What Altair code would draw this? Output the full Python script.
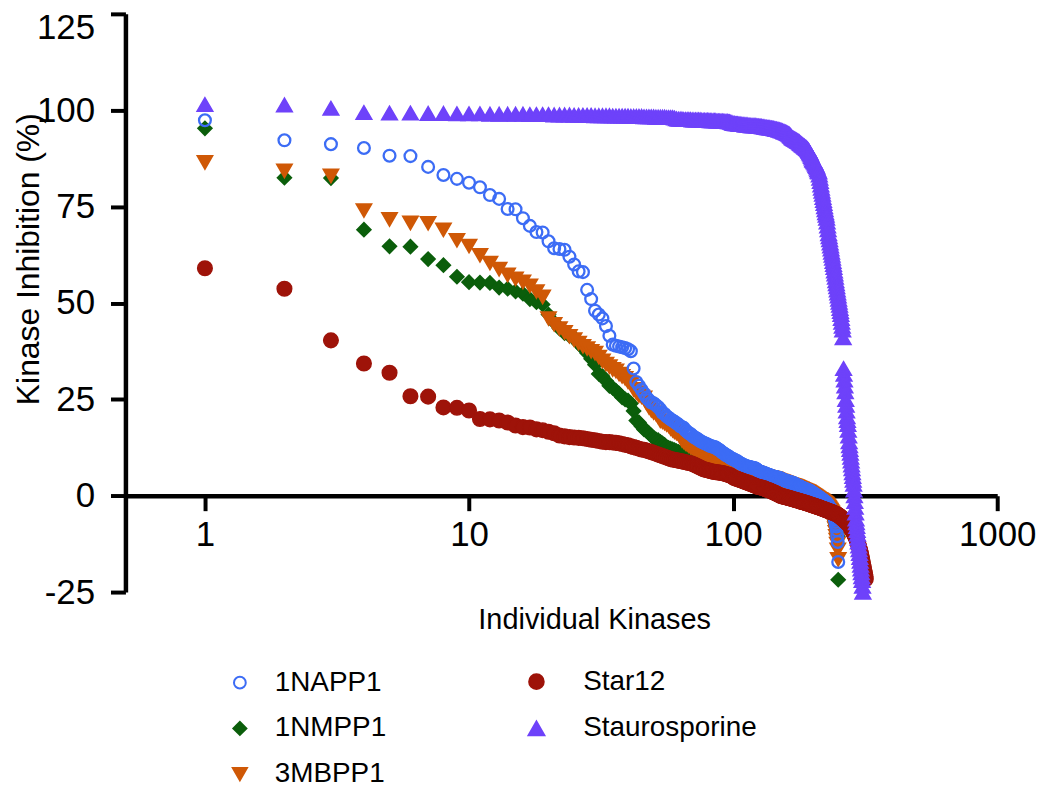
import altair as alt
import pandas as pd

# Ranked kinase inhibition (%) per compound, rank 1..N
napp1 = [
    97.4, 92.2, 91.2, 90.2, 88.2, 88.1, 85.3, 83.2, 82.2, 81.2,
    80.0, 78.0, 77.0, 74.4, 74.3, 72.0, 70.0, 68.4, 68.3, 66.0,
    64.2, 64.0, 63.8, 62.0, 60.0, 58.2, 58.0, 53.4, 51.0, 48.0,
    47.0, 46.0, 44.0, 41.5, 39.2, 38.9, 38.7, 38.5, 38.3, 38.0,
    37.5, 33.0, 29.5, 28.5, 27.5, 26.5, 25.5, 24.8, 24.2, 24.0,
    23.5, 23.0, 22.4, 21.5, 21.2, 20.6, 20.2, 19.8, 19.5, 19.2,
    18.8, 18.5, 18.0, 17.8, 17.6, 17.0, 16.6, 16.2, 16.0, 15.6,
    15.2, 15.0, 14.8, 14.5, 14.2, 14.0, 13.8, 13.6, 13.5, 13.3,
    13.1, 12.9, 12.8, 12.7, 12.6, 12.5, 12.2, 12.0, 11.8, 11.5,
    11.2, 11.0, 10.8, 10.5, 10.4, 10.2, 10.0, 9.8, 9.6, 9.5,
    9.3, 9.2, 9.0, 8.9, 8.7, 8.5, 8.3, 8.2, 8.0, 7.9,
    7.8, 7.7, 7.6, 7.5, 7.5, 7.4, 7.3, 7.3, 7.2, 7.2,
    7.1, 7.0, 6.8, 6.6, 6.4, 6.3, 6.2, 6.1, 6.0, 6.0,
    5.9, 5.8, 5.7, 5.6, 5.5, 5.4, 5.4, 5.3, 5.2, 5.1,
    5.0, 5.0, 4.9, 4.9, 4.8, 4.8, 4.7, 4.7, 4.6, 4.6,
    4.5, 4.4, 4.3, 4.2, 4.1, 4.0, 4.0, 3.9, 3.8, 3.8,
    3.7, 3.7, 3.6, 3.5, 3.5, 3.4, 3.4, 3.3, 3.3, 3.2,
    3.1, 3.0, 2.9, 2.8, 2.7, 2.6, 2.5, 2.5, 2.4, 2.3,
    2.2, 2.1, 2.0, 2.0, 1.9, 1.8, 1.8, 1.7, 1.6, 1.6,
    1.5, 1.5, 1.4, 1.4, 1.3, 1.2, 1.1, 1.0, 0.9, 0.8,
    0.7, 0.6, 0.5, 0.4, 0.3, 0.2, 0.1, 0.0, -0.1, -0.2,
    -0.3, -0.4, -0.5, -0.6, -0.7, -0.8, -0.9, -1.0, -1.1, -1.2,
    -1.3, -1.4, -1.5, -1.6, -1.7, -1.8, -2.0, -2.2, -2.4, -2.6,
    -2.8, -3.0, -3.2, -3.4, -3.6, -3.8, -4.0, -4.3, -4.6, -5.0,
    -5.4, -5.8, -6.2, -6.8, -7.5, -8.0, -9.0, -10.5, -12.0, -17.2,
]

nmpp1 = [
    95.3, 82.5, 82.4, 69.0, 64.7, 64.6, 61.4, 59.8, 56.8, 55.4,
    55.3, 55.2, 54.0, 53.7, 53.0, 52.4, 51.0, 50.2, 49.6, 47.0,
    45.0, 43.4, 42.2, 41.5, 41.0, 39.5, 38.3, 37.0, 35.5, 34.0,
    31.6, 31.0, 29.8, 28.5, 28.0, 27.2, 26.5, 25.5, 25.0, 24.7,
    23.9, 22.0, 19.5, 19.0, 18.0, 17.2, 16.8, 16.2, 15.6, 15.0,
    14.6, 14.4, 14.0, 13.6, 13.2, 12.6, 12.4, 12.2, 12.0, 11.8,
    11.6, 11.4, 11.2, 11.0, 10.9, 10.8, 10.7, 10.6, 10.5, 10.4,
    10.2, 10.1, 10.0, 9.9, 9.8, 9.7, 9.6, 9.5, 9.5, 9.4,
    9.3, 9.2, 9.1, 9.0, 8.9, 8.8, 8.7, 8.6, 8.5, 8.4,
    8.3, 8.2, 8.1, 8.0, 7.9, 7.8, 7.7, 7.6, 7.5, 7.5,
    7.4, 7.3, 7.2, 7.1, 7.0, 6.9, 6.8, 6.7, 6.6, 6.5,
    6.4, 6.4, 6.3, 6.3, 6.2, 6.2, 6.1, 6.1, 6.0, 6.0,
    5.9, 5.8, 5.7, 5.6, 5.5, 5.4, 5.3, 5.2, 5.1, 5.0,
    4.9, 4.8, 4.8, 4.7, 4.6, 4.5, 4.4, 4.4, 4.3, 4.2,
    4.2, 4.1, 4.1, 4.0, 4.0, 3.9, 3.9, 3.8, 3.8, 3.7,
    3.6, 3.6, 3.5, 3.5, 3.4, 3.3, 3.3, 3.2, 3.1, 3.0,
    3.0, 2.9, 2.9, 2.8, 2.8, 2.7, 2.7, 2.6, 2.6, 2.5,
    2.5, 2.4, 2.4, 2.3, 2.3, 2.2, 2.2, 2.1, 2.1, 2.0,
    2.0, 1.9, 1.9, 1.8, 1.7, 1.6, 1.6, 1.5, 1.4, 1.3,
    1.3, 1.2, 1.1, 1.0, 1.0, 0.9, 0.8, 0.7, 0.6, 0.5,
    0.4, 0.3, 0.2, 0.1, 0.0, -0.1, -0.2, -0.3, -0.4, -0.5,
    -0.6, -0.7, -0.8, -0.9, -1.0, -1.1, -1.2, -1.3, -1.4, -1.5,
    -1.6, -1.7, -1.8, -1.9, -2.0, -2.1, -2.2, -2.3, -2.5, -2.7,
    -2.9, -3.1, -3.3, -3.5, -3.7, -3.9, -4.2, -4.5, -4.8, -5.2,
    -5.6, -6.0, -6.5, -7.0, -7.5, -8.0, -8.8, -9.5, -10.5, -21.8,
]

mbpp1 = [
    86.5, 84.3, 83.0, 74.0, 71.7, 70.8, 70.7, 69.0, 66.3, 64.8,
    62.4, 60.4, 58.8, 57.3, 56.3, 55.5, 54.5, 53.0, 51.6, 46.0,
    44.5, 43.4, 42.4, 41.4, 40.5, 39.6, 38.8, 38.2, 37.5, 37.0,
    36.0, 35.0, 34.2, 33.5, 32.8, 32.4, 31.6, 31.0, 30.5, 29.6,
    29.0, 27.6, 26.8, 26.0, 25.7, 25.4, 24.0, 23.0, 22.2, 21.6,
    21.3, 20.5, 19.5, 19.2, 18.9, 18.5, 18.2, 17.5, 17.0, 16.6,
    16.3, 16.2, 15.4, 14.4, 14.0, 13.6, 13.3, 13.0, 12.7, 12.4,
    12.2, 12.0, 11.8, 11.6, 11.4, 11.2, 11.0, 10.8, 10.6, 10.4,
    10.2, 10.0, 9.9, 9.8, 9.7, 9.6, 9.5, 9.4, 9.3, 9.2,
    9.1, 9.0, 8.9, 8.8, 8.7, 8.6, 8.5, 8.4, 8.3, 8.2,
    8.0, 7.9, 7.8, 7.6, 7.5, 7.4, 7.2, 7.1, 7.0, 6.9,
    6.8, 6.7, 6.6, 6.5, 6.4, 6.4, 6.3, 6.2, 6.1, 6.0,
    6.0, 5.9, 5.8, 5.7, 5.6, 5.5, 5.4, 5.3, 5.2, 5.1,
    5.0, 5.0, 4.9, 4.9, 4.8, 4.8, 4.7, 4.7, 4.6, 4.6,
    4.5, 4.5, 4.4, 4.4, 4.3, 4.2, 4.1, 4.0, 3.9, 3.8,
    3.8, 3.7, 3.6, 3.6, 3.5, 3.4, 3.4, 3.3, 3.2, 3.2,
    3.1, 3.0, 3.0, 2.9, 2.8, 2.8, 2.7, 2.7, 2.6, 2.5,
    2.5, 2.4, 2.3, 2.3, 2.2, 2.1, 2.0, 2.0, 1.9, 1.8,
    1.8, 1.7, 1.6, 1.5, 1.5, 1.4, 1.3, 1.2, 1.2, 1.1,
    1.0, 1.0, 0.9, 0.8, 0.7, 0.6, 0.5, 0.4, 0.3, 0.2,
    0.1, 0.0, -0.1, -0.2, -0.3, -0.4, -0.5, -0.6, -0.7, -0.8,
    -0.9, -1.0, -1.0, -1.1, -1.2, -1.3, -1.4, -1.5, -1.6, -1.7,
    -1.8, -1.9, -2.0, -2.1, -2.2, -2.4, -2.6, -2.8, -3.0, -3.2,
    -3.4, -3.6, -3.8, -4.0, -4.2, -4.4, -4.7, -5.0, -5.4, -5.8,
    -6.3, -7.0, -7.8, -8.5, -9.5, -10.5, -11.5, -12.5, -14.0, -16.5,
]

star12 = [
    59.0, 53.7, 40.3, 34.3, 31.9, 25.8, 25.7, 22.9, 22.8, 22.1,
    19.9, 19.8, 19.5, 19.0, 18.2, 17.8, 17.7, 17.2, 17.0, 16.6,
    16.2, 15.6, 15.4, 15.2, 15.1, 15.0, 14.9, 14.7, 14.5, 14.4,
    14.2, 14.0, 13.9, 13.9, 13.8, 13.7, 13.6, 13.4, 13.2, 13.1,
    12.8, 12.6, 12.4, 12.2, 12.0, 11.9, 11.7, 11.5, 11.3, 11.1,
    10.9, 10.7, 10.5, 10.3, 10.1, 9.9, 9.7, 9.5, 9.4, 9.3,
    9.2, 9.1, 9.0, 8.9, 8.8, 8.7, 8.6, 8.5, 8.4, 8.3,
    8.1, 7.9, 7.7, 7.5, 7.3, 7.1, 6.9, 6.8, 6.7, 6.6,
    6.5, 6.4, 6.3, 6.2, 6.2, 6.1, 6.1, 6.0, 6.0, 5.9,
    5.9, 5.8, 5.7, 5.6, 5.5, 5.4, 5.3, 5.2, 5.0, 4.8,
    4.6, 4.5, 4.4, 4.3, 4.2, 4.1, 4.0, 3.9, 3.8, 3.7,
    3.6, 3.5, 3.4, 3.3, 3.2, 3.1, 3.0, 2.9, 2.8, 2.7,
    2.6, 2.5, 2.4, 2.3, 2.3, 2.2, 2.2, 2.1, 2.0, 2.0,
    1.9, 1.8, 1.7, 1.6, 1.5, 1.5, 1.4, 1.3, 1.2, 1.1,
    1.0, 0.9, 0.8, 0.7, 0.6, 0.5, 0.4, 0.3, 0.2, 0.1,
    0.0, -0.1, -0.1, -0.2, -0.2, -0.3, -0.3, -0.4, -0.4, -0.5,
    -0.5, -0.6, -0.6, -0.7, -0.7, -0.8, -0.8, -0.9, -0.9, -1.0,
    -1.0, -1.1, -1.1, -1.2, -1.2, -1.3, -1.3, -1.4, -1.4, -1.5,
    -1.5, -1.6, -1.6, -1.7, -1.7, -1.8, -1.8, -1.9, -1.9, -2.0,
    -2.0, -2.1, -2.1, -2.2, -2.2, -2.3, -2.3, -2.4, -2.4, -2.5,
    -2.5, -2.6, -2.6, -2.7, -2.7, -2.8, -2.8, -2.9, -2.9, -3.0,
    -3.0, -3.1, -3.1, -3.2, -3.2, -3.3, -3.3, -3.4, -3.4, -3.5,
    -3.5, -3.6, -3.6, -3.7, -3.7, -3.8, -3.8, -3.9, -3.9, -4.0,
    -4.0, -4.1, -4.1, -4.2, -4.2, -4.3, -4.3, -4.4, -4.4, -4.5,
    -4.5, -4.6, -4.6, -4.7, -4.7, -4.8, -4.8, -4.9, -5.0, -5.0,
    -5.1, -5.2, -5.3, -5.4, -5.5, -5.6, -5.7, -5.8, -5.9, -6.0,
    -6.1, -6.2, -6.3, -6.4, -6.5, -6.6, -6.7, -6.8, -6.9, -7.0,
    -7.1, -7.2, -7.3, -7.4, -7.5, -7.7, -7.9, -8.1, -8.3, -8.5,
    -8.7, -8.9, -9.1, -9.3, -9.5, -9.7, -9.9, -10.1, -10.3, -10.5,
    -10.7, -10.9, -11.2, -11.5, -11.8, -12.1, -12.4, -12.7, -13.0, -13.3,
    -13.6, -14.0, -14.4, -14.8, -15.2, -15.6, -16.0, -16.5, -17.0, -17.5,
    -18.0, -18.5, -19.0, -19.5, -20.0, -20.5, -21.0, -21.6,
]

staurosporine = [
    101.5, 101.4, 100.5, 99.4, 99.3, 99.3, 99.2, 99.2, 99.1, 99.1,
    99.1, 99.0, 99.0, 99.0, 99.0, 99.0, 98.9, 98.9, 98.9, 98.9,
    98.8, 98.8, 98.8, 98.8, 98.7, 98.7, 98.7, 98.7, 98.7, 98.6,
    98.6, 98.6, 98.6, 98.6, 98.5, 98.5, 98.5, 98.5, 98.5, 98.5,
    98.4, 98.4, 98.4, 98.4, 98.4, 98.3, 98.3, 98.3, 98.3, 98.3,
    98.2, 98.2, 98.2, 98.2, 98.2, 98.1, 98.1, 98.1, 98.1, 98.0,
    97.8, 97.7, 97.7, 97.7, 97.6, 97.6, 97.6, 97.6, 97.6, 97.5,
    97.5, 97.5, 97.5, 97.5, 97.5, 97.4, 97.4, 97.4, 97.4, 97.4,
    97.4, 97.3, 97.3, 97.3, 97.3, 97.3, 97.2, 97.2, 97.2, 97.2,
    97.2, 97.1, 97.1, 97.1, 97.1, 97.0, 97.0, 96.9, 96.8, 96.6,
    96.6, 96.5, 96.5, 96.5, 96.4, 96.4, 96.4, 96.3, 96.3, 96.3,
    96.2, 96.2, 96.2, 96.1, 96.1, 96.1, 96.0, 96.0, 96.0, 96.0,
    96.0, 96.0, 95.9, 95.9, 95.9, 95.8, 95.8, 95.8, 95.7, 95.7,
    95.7, 95.6, 95.6, 95.6, 95.5, 95.5, 95.5, 95.4, 95.4, 95.4,
    95.3, 95.3, 95.2, 95.2, 95.1, 95.1, 95.0, 95.0, 94.9, 94.9,
    94.8, 94.7, 94.7, 94.6, 94.5, 94.4, 94.4, 94.3, 94.2, 94.1,
    94.0, 93.9, 93.8, 93.6, 93.4, 93.2, 93.0, 92.8, 92.7, 92.6,
    92.5, 92.4, 92.3, 92.2, 92.1, 92.0, 91.9, 91.8, 91.6, 91.4,
    91.3, 91.2, 91.0, 90.9, 90.8, 90.7, 90.5, 90.4, 90.3, 90.1,
    90.0, 89.8, 89.6, 89.3, 89.0, 88.7, 88.4, 88.0, 87.6, 87.2,
    87.0, 86.8, 86.6, 86.3, 86.0, 85.7, 85.4, 85.0, 84.6, 84.2,
    84.0, 83.2, 82.4, 81.5, 80.6, 79.8, 79.0, 78.2, 77.4, 76.6,
    75.8, 75.0, 74.2, 73.4, 72.8, 72.0, 71.0, 70.0, 69.0, 68.0,
    67.2, 66.4, 65.6, 64.8, 64.0, 63.2, 62.4, 61.6, 60.8, 60.0,
    59.2, 58.3, 57.5, 56.7, 55.8, 55.0, 54.2, 53.4, 52.6, 51.8,
    51.0, 50.2, 49.4, 48.6, 47.8, 47.0, 46.0, 45.0, 44.0, 43.0,
    41.0, 33.0, 31.5, 30.0, 28.5, 27.0, 25.0, 23.5, 22.0, 20.5,
    19.5, 18.5, 17.0, 15.5, 14.0, 13.0, 12.0, 11.0, 10.0, 9.0,
    8.0, 7.0, 6.0, 5.0, 4.0, 3.0, 1.5, 0.0, -1.5, -3.0,
    -4.5, -6.0, -7.0, -8.0, -9.0, -10.0, -11.0, -12.0, -13.0, -14.0,
    -15.0, -16.0, -17.0, -18.0, -19.0, -20.0, -21.0, -22.0, -23.5, -25.0,
]

names_a = ["1NAPP1", "1NMPP1", "3MBPP1"]
names_b = ["Star12", "Staurosporine"]
stroke_a = ["#3c6cf5", "#0b5e0b", "#cf5806"]
fill_a = ["transparent", "#0b5e0b", "#cf5806"]
shape_a = ["circle", "diamond", "triangle-down"]
size_a = [140, 200, 220]
stroke_b = ["#9e1309", "#6e42fa"]
fill_b = ["#9e1309", "#6e42fa"]
shape_b = ["circle", "triangle-up"]
size_b = [215, 250]

x_ticks = [1, 10, 100, 1000]
y_ticks = [-25, 0, 25, 50, 75, 100, 125]


def frame(names, series):
    rows = []
    for name, vals in zip(names, series):
        for i, v in enumerate(vals):
            rows.append({"rank": i + 1, "value": v, "compound": name})
    return pd.DataFrame(rows)


# drawing order: green, orange, then hollow blue on top (as in the figure)
df_a = frame(["1NMPP1", "3MBPP1", "1NAPP1"], [nmpp1, mbpp1, napp1])
df_b = frame(names_b, [star12, staurosporine])

FONT = "Liberation Sans"
W, H = 876, 581

x_enc = alt.X(
    "rank:Q",
    scale=alt.Scale(type="log", domain=[0.5, 1000], nice=False),
    axis=alt.Axis(
        values=x_ticks, labelExpr="'' + datum.value", offset=-96.8,
        labelFlush=False, labelOverlap=False,
        title="Individual Kinases", titleX=471, titleY=124,
        titleBaseline="middle", titleAlign="center", titleFontSize=29,
    ),
)
y_enc = alt.Y(
    "value:Q",
    scale=alt.Scale(domain=[-25, 125], nice=False, zero=False),
    axis=alt.Axis(
        values=y_ticks, labelExpr="'' + datum.value",
        labelFlush=False, labelOverlap=False,
        labelOffset={"condition": {"test": "datum.value == 125", "value": 14}, "value": 0},
        title="Kinase Inhibition (%)", titleX=-97, titleY=246,
        titleAngle=270, titleBaseline="middle", titleAlign="center",
        titleFontSize=32,
    ),
)


def legend(x, y, offset, row_pad):
    return alt.Legend(
        orient="none", legendX=x, legendY=y, padding=0,
        labelFont=FONT, labelFontSize=28, labelColor="black", labelLimit=400,
        labelOffset=offset, symbolStrokeWidth=2,
        rowPadding=row_pad, symbolOpacity=1,
    )


leg_a = legend(101, 658, 21, 18)
leg_b = legend(399, 657, 33, 19)


def layer(df, names, fills, strokes, shapes, sizes, leg, sw):
    return alt.Chart(df).mark_point(strokeWidth=sw, opacity=1).encode(
        x=x_enc,
        y=y_enc,
        fill=alt.Fill("compound:N", title=None, scale=alt.Scale(domain=names, range=fills), legend=leg),
        stroke=alt.Stroke("compound:N", title=None, scale=alt.Scale(domain=names, range=strokes), legend=leg),
        shape=alt.Shape("compound:N", title=None, scale=alt.Scale(domain=names, range=shapes), legend=leg),
        size=alt.Size("compound:N", title=None, scale=alt.Scale(domain=names, range=sizes), legend=leg),
    )


layer_a = layer(df_a, names_a, fill_a, stroke_a, shape_a, size_a, leg_a, 2.3)
layer_b = layer(df_b, names_b, fill_b, stroke_b, shape_b, size_b, leg_b, 1.5)

chart = (
    alt.layer(layer_a, layer_b)
    .resolve_scale(fill="independent", stroke="independent", shape="independent", size="independent")
    .properties(
        width=W, height=H,
        autosize=alt.AutoSizeParams(type="none"),
        padding={"left": 118, "top": 4, "right": 45, "bottom": 199},
    )
    .configure_view(strokeWidth=0)
    .configure_axis(
        grid=False,
        domainColor="black", domainWidth=4.5,
        tickColor="black", tickWidth=4, tickSize=15,
        labelFont=FONT, labelFontSize=35, labelColor="black",
        titleFont=FONT, titleFontWeight="normal", titleColor="black",
    )
    .configure_axisY(labelPadding=16)
    .configure_axisX(labelPadding=7)
)

chart.save("out.html", embed_options={"renderer": "svg", "actions": False})
